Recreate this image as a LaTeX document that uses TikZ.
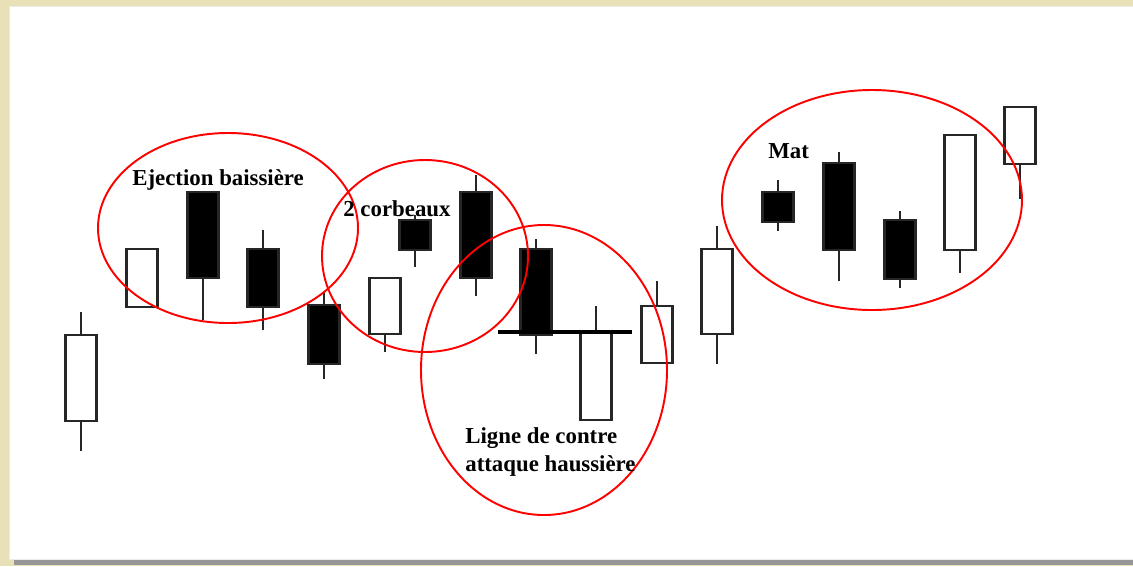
\documentclass[tikz,border=0pt]{standalone}
\usepackage{fontspec}
\setmainfont{Liberation Serif}
\usepackage{xcolor}
\usepackage{tikz}
\definecolor{cadre}{RGB}{232,225,184}
\definecolor{ombre}{RGB}{150,150,150}

\begin{document}
\begin{tikzpicture}[x=0.02cm,y=-0.02cm,
	bougie/.style={draw=black!85,line width=1.4pt},
	zone/.style={draw=red,line width=1.1pt},
	etiquette/.style={font=\fontsize{13}{16.5}\selectfont\bfseries,inner sep=0,anchor=west,align=left}]
	\useasboundingbox (0,0) rectangle (1133,566);
	\fill[cadre] (0,0) rectangle (1133,566);
	\fill[ombre] (14,558) rectangle (1133,565);
	\fill[white,draw=black!8] (9,6) rectangle (1140,559);
	% x / haut / ouverture / fermeture / bas / couleur
	\foreach \x/\h/\a/\b/\l/\c in {81/312/335/421/451/white, 142/249/249/307/307/white,
		203/192/192/278/320/black, 263/230/249/307/330/black, 324/293/305/364/379/black,
		385/278/278/334/352/white, 415/215/220/250/267/black, 476/175/192/278/296/black,
		536/239/249/335/354/black, 596/306/333/420/420/white, 657/281/306/363/363/white,
		717/226/249/334/364/white, 778/180/192/222/231/black, 839/152/163/250/281/black,
		900/211/220/279/288/black, 960/135/135/250/273/white, 1020/107/107/164/199/white}{
		\draw[bougie] (\x,\h) -- (\x,\l);
		\draw[bougie,fill=\c] (\x-15.5,\a) rectangle (\x+15.5,\b);
	}
	\draw[black,line width=1.9pt] (498,332) -- (632,332);
	\draw[zone] (228,228) ellipse [x radius=130,y radius=95];
	\draw[zone] (425,256) ellipse [x radius=103,y radius=96];
	\draw[zone] (544,370) ellipse [x radius=123,y radius=145];
	\draw[zone] (872,200) ellipse [x radius=150,y radius=110];
	\node (ejection) at (132,180)[etiquette]{Ejection baissière};
	\node (corbeaux) at (343,209)[etiquette]{2 corbeaux};
	\node (mat) at (768,151)[etiquette]{Mat};
	\node (contre) at (465,452)[etiquette]{Ligne de contre\\attaque haussière};
\end{tikzpicture}
\end{document}
